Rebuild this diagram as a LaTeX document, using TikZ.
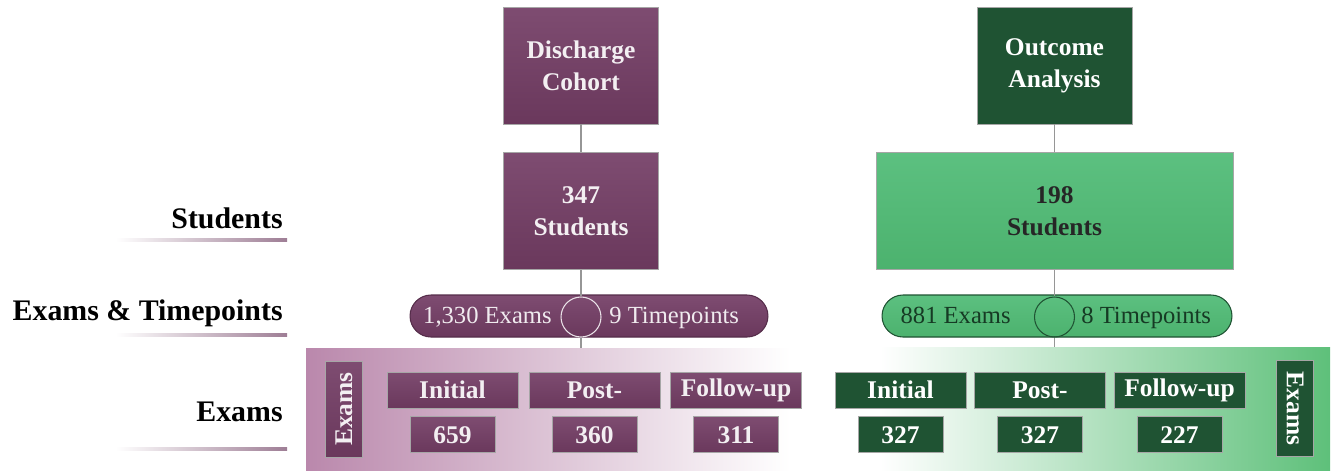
\documentclass[tikz,border=0pt]{standalone}
\usepackage{fontspec}
\setmainfont{Liberation Serif}
\usetikzlibrary{positioning}
\definecolor{plum}{RGB}{106,56,92}
\definecolor{plumtop}{RGB}{126,76,113}
\definecolor{plumlt}{RGB}{186,136,172}
\definecolor{pine}{RGB}{31,83,51}
\definecolor{mint}{RGB}{76,178,110}
\definecolor{minttop}{RGB}{92,192,128}
\definecolor{mintlt}{RGB}{94,192,122}
\definecolor{linegray}{RGB}{150,150,150}

\begin{document}
\begin{tikzpicture}[x=0.02cm, y=-0.02cm,
  box/.style={draw=black!35, inner sep=0pt, align=center,
              font=\fontsize{14.5}{18}\selectfont\bfseries},
  pbox/.style={box, top color=plumtop, bottom color=plum, text=white!92!plum},
  gbox/.style={box, fill=pine, text=white},
  lbox/.style={box, top color=minttop, bottom color=mint, text=black!85},
  big/.style={minimum width=3.1cm, minimum height=2.34cm},
  head/.style={minimum width=2.62cm, minimum height=0.72cm},
  num/.style={minimum width=1.7cm, minimum height=0.72cm},
  tag/.style={minimum width=1.92cm, minimum height=0.74cm},
  pill/.style={rounded corners=0.42cm, minimum height=0.84cm, line width=0.6pt},
  ring/.style={circle, minimum size=0.8cm, inner sep=0pt, line width=0.6pt},
  ptext/.style={font=\fontsize{14}{16}\selectfont, inner sep=0pt},
  lab/.style={font=\fontsize{17}{20}\selectfont\bfseries, inner sep=0pt},
  rule/.style={left color=white, right color=plum!65},
  conn/.style={draw=linegray, line width=1pt}]
\useasboundingbox (0,0) rectangle (1333,471);
% --- shaded exam panels ---
\shade[left color=plumlt, right color=white] (306,348) rectangle (790,470);
\shade[left color=white, right color=mintlt] (880,347) rectangle (1330,470);
% --- row labels ---
\node[lab, anchor=base east] (lstu) at (283,228) {Students};
\node[lab, anchor=base east] (ltime) at (283,320) {Exams \& Timepoints};
\node[lab, anchor=base east] (lexam) at (283,421) {Exams};
\shade[rule] (116,238) rectangle (287,241);
\shade[rule] (116,333) rectangle (287,336);
\shade[rule] (116,447) rectangle (287,450);
% --- discharge cohort ---
\node[pbox, big] (dc) at (581,65.5) {Discharge\\Cohort};
\node[pbox, big, below=0.56cm of dc] (dstu) {347\\Students};
\node[pill, draw=plum!80!black, top color=plumtop, bottom color=plum,
      minimum width=7.16cm] (dpill) at (589,316) {};
\node[ring, draw=white!85!plum] (dring) at (581,317) {};
\node[ptext, text=white!90!plum, anchor=base east] (dex) at (552,323) {1,330 Exams};
\node[ptext, text=white!90!plum, anchor=base west] (dtp) at (609,323) {9 Timepoints};
\coordinate (dend) at (581,348);
\draw[conn] (dc) -- (dstu);
\draw[conn] (dstu) -- (dring);
\draw[conn] (dring) -- (dend);
\node[pbox, tag, rotate=90] (dtag) at (344,409) {Exams};
\foreach \i/\x/\h/\n in {1/452.5/Initial/659, 2/594.5/Post-/360, 3/736/Follow-up/311} {
  \node[pbox, head] (dh\i) at (\x,390) {\h};
  \node[pbox, num, below=0.16cm of dh\i] (dn\i) {\n};
}
% --- outcome analysis ---
\node[gbox, big] (oa) at (1054.5,65.5) {Outcome\\Analysis};
\node[lbox, big, minimum width=7.14cm, below=0.56cm of oa] (ostu) {198\\Students};
\node[pill, draw=pine, top color=minttop, bottom color=mint,
      minimum width=7cm] (opill) at (1057,316) {};
\node[ring, draw=pine] (oring) at (1054.5,317) {};
\node[ptext, text=pine!70!black, anchor=base east] (oex) at (1011,323) {881 Exams};
\node[ptext, text=pine!70!black, anchor=base west] (otp) at (1081,323) {8 Timepoints};
\coordinate (oend) at (1054.5,347);
\draw[conn] (oa) -- (ostu);
\draw[conn] (ostu) -- (oring);
\draw[conn] (oring) -- (oend);
\node[gbox, tag, rotate=-90] (otag) at (1295,408.5) {Exams};
\foreach \i/\x/\h/\n in {1/900.5/Initial/327, 2/1040/Post-/327, 3/1179.5/Follow-up/227} {
  \node[gbox, head] (oh\i) at (\x,390) {\h};
  \node[gbox, num, below=0.16cm of oh\i] (on\i) {\n};
}
\end{tikzpicture}
\end{document}
